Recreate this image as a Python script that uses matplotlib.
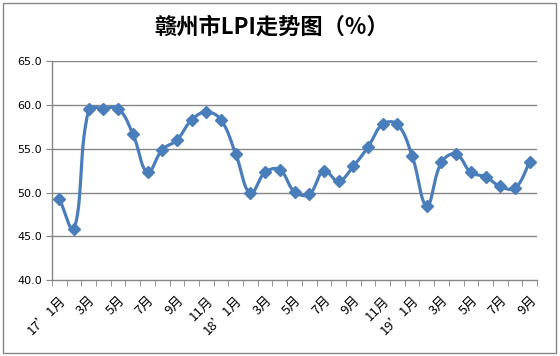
import numpy as np
import matplotlib
matplotlib.use("Agg")
import matplotlib.pyplot as plt
from matplotlib.patches import Rectangle

plt.rcParams['font.family'] = ['Noto Sans CJK SC', 'DejaVu Sans']

values = [49.3, 45.8, 59.5, 59.6, 59.6, 56.7, 52.3, 54.9, 56.0, 58.3, 59.2, 58.3,
          54.4, 49.9, 52.3, 52.6, 50.1, 49.8, 52.5, 51.3, 53.0, 55.2, 57.8, 57.8,
          54.2, 48.5, 53.45, 54.4, 52.3, 51.8, 50.7, 50.5, 53.45]
tick_labels = ["17’1月", "3月", "5月", "7月", "9月", "11月",
               "18’1月", "3月", "5月", "7月", "9月", "11月",
               "19’1月", "3月", "5月", "7月", "9月"]
title = "赣州市LPI走势图（%）"

color = "#4A7EBB"
grid_c = "#868686"

x = np.arange(len(values), dtype=float)
y = np.array(values, dtype=float)

# screen-space scale (pixels per unit) for Excel-like smoothing
SX = 485 / 33.0
SY = (280 - 61.3) / 25.0

def smooth(x, y, n=30, k=0.4):
    P = np.column_stack([x * SX, y * SY])
    m = len(P)
    cout = np.zeros_like(P)
    cin = np.zeros_like(P)
    for i in range(m):
        if i == 0:
            d = P[1] - P[0]
            cout[i] = P[i] + d / 3
            continue
        if i == m - 1:
            d = P[i] - P[i - 1]
            cin[i] = P[i] - d / 3
            continue
        d = P[i + 1] - P[i - 1]
        lin = np.linalg.norm(P[i] - P[i - 1])
        lout = np.linalg.norm(P[i + 1] - P[i])
        s = lin + lout
        cin[i] = P[i] - d * k * lin / s
        cout[i] = P[i] + d * k * lout / s
    t = np.linspace(0, 1, n, endpoint=False)[:, None]
    pts = []
    for i in range(m - 1):
        p1, c1, c2, p2 = P[i], cout[i], cin[i + 1], P[i + 1]
        b = (1 - t) ** 3 * p1 + 3 * (1 - t) ** 2 * t * c1 + 3 * (1 - t) * t ** 2 * c2 + t ** 3 * p2
        pts.append(b)
    pts.append(P[-1:])
    pts = np.vstack(pts)
    return pts[:, 0] / SX, pts[:, 1] / SY

fig = plt.figure(figsize=(5.6, 3.56), dpi=100)
fig.patches.append(Rectangle((3 / 560, 3 / 356), 553 / 560, 350 / 356, transform=fig.transFigure,
                             fill=False, edgecolor=grid_c, linewidth=1.0))
ax = fig.add_axes([52 / 560, 1 - 280 / 356, 485 / 560, (280 - 61.3) / 356])

sx, sy = smooth(x, y)
ax.plot(sx, sy, color=color, linewidth=2.3, solid_capstyle='round', zorder=3)
ax.plot(x, y, linestyle='none', marker='D', markersize=6, color=color, zorder=4)

ax.set_xlim(-0.5, len(values) - 0.5)
ax.set_ylim(40, 65)
ax.set_yticks(np.arange(40, 66, 5))
ax.set_yticklabels([f"{v:.1f}" for v in np.arange(40, 66, 5)], fontsize=8, family='DejaVu Sans')
for v in np.arange(45, 66, 5):
    ax.axhline(v, color=grid_c, linewidth=1.0, zorder=1)

ax.set_xticks(np.arange(-0.5, len(values), 1), minor=True)
ax.set_xticks(np.arange(0, len(values), 2))
ax.set_xticklabels(tick_labels, rotation=45, ha='right', va='top', rotation_mode='anchor', fontsize=9.5)
ax.tick_params(axis='x', which='major', length=0, pad=10)
ax.tick_params(axis='x', which='minor', length=4, color=grid_c, direction='out')
ax.tick_params(axis='y', length=4, color=grid_c, direction='out', pad=3)

for s in ['top', 'right']:
    ax.spines[s].set_visible(False)
for s in ['left', 'bottom']:
    ax.spines[s].set_color(grid_c)
    ax.spines[s].set_linewidth(1.0)

fig.text(272 / 560, 1 - 27 / 356, title, ha='center', va='center', fontsize=16, fontweight='bold')

fig.savefig("out.png", dpi=100)
